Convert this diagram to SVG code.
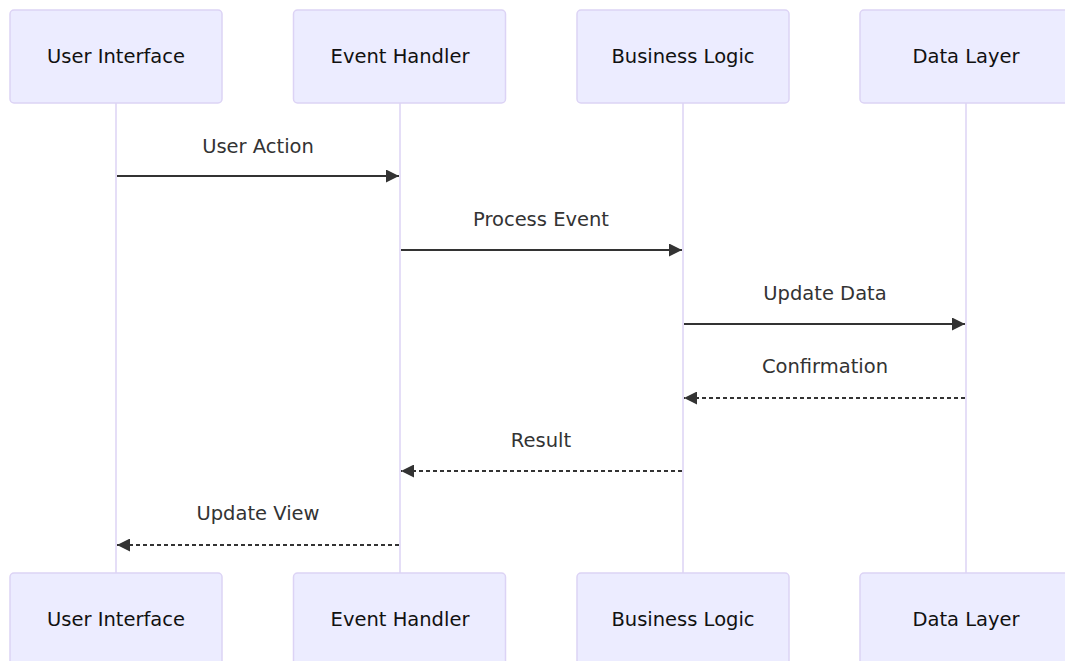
<svg xmlns="http://www.w3.org/2000/svg" width="1065" height="661" viewBox="0 0 1065 661">
  <style>
    .actor rect { fill: #ECECFF; stroke: #DCD3F5; stroke-width: 1.5; }
    .actor text { font-family: "DejaVu Sans", "Noto Sans", sans-serif; font-size: 19.5px; fill: #111; text-anchor: middle; dominant-baseline: central; }
    .lifeline { stroke: #DCD3F5; stroke-width: 1.5; fill: none; }
    .msg { stroke: #333; stroke-width: 2; fill: none; }
    .dashed { stroke-dasharray: 4 3; }
    .label { font-family: "DejaVu Sans", "Noto Sans", sans-serif; font-size: 19.5px; fill: #333; text-anchor: middle; }
  </style>
  <defs>
    <marker id="arrowhead" viewBox="0 0 13 13" refX="13" refY="6.5" markerWidth="13" markerHeight="13" markerUnits="userSpaceOnUse" orient="auto">
      <path d="M0,0 L13,6.5 L0,13 z" fill="#333"/>
    </marker>
  </defs>
  <rect width="1065" height="661" fill="#fff"/>

  <!-- lifelines -->
  <g id="lifelines">
    <line class="lifeline" x1="116" y1="103" x2="116" y2="573"/>
    <line class="lifeline" x1="400" y1="103" x2="400" y2="573"/>
    <line class="lifeline" x1="683" y1="103" x2="683" y2="573"/>
    <line class="lifeline" x1="966" y1="103" x2="966" y2="573"/>
  </g>

  <!-- participants, top row -->
  <g id="ui-top" class="actor"><rect x="10" y="10" width="212" height="93" rx="4"/><text x="116" y="56">User Interface</text></g>
  <g id="eh-top" class="actor"><rect x="293.5" y="10" width="212" height="93" rx="4"/><text x="400" y="56">Event Handler</text></g>
  <g id="bl-top" class="actor"><rect x="577" y="10" width="212" height="93" rx="4"/><text x="683" y="56">Business Logic</text></g>
  <g id="dl-top" class="actor"><rect x="860" y="10" width="212" height="93" rx="4"/><text x="966" y="56">Data Layer</text></g>

  <!-- participants, bottom row -->
  <g id="ui-bottom" class="actor"><rect x="10" y="573" width="212" height="93" rx="4"/><text x="116" y="619">User Interface</text></g>
  <g id="eh-bottom" class="actor"><rect x="293.5" y="573" width="212" height="93" rx="4"/><text x="400" y="619">Event Handler</text></g>
  <g id="bl-bottom" class="actor"><rect x="577" y="573" width="212" height="93" rx="4"/><text x="683" y="619">Business Logic</text></g>
  <g id="dl-bottom" class="actor"><rect x="860" y="573" width="212" height="93" rx="4"/><text x="966" y="619">Data Layer</text></g>

  <!-- messages -->
  <g id="connectors">
    <line class="msg" x1="117" y1="176" x2="399" y2="176" marker-end="url(#arrowhead)"/>
    <text class="label" x="258" y="153">User Action</text>
    <line class="msg" x1="401" y1="250" x2="682" y2="250" marker-end="url(#arrowhead)"/>
    <text class="label" x="541" y="226">Process Event</text>
    <line class="msg" x1="684" y1="324" x2="965" y2="324" marker-end="url(#arrowhead)"/>
    <text class="label" x="825" y="300">Update Data</text>
    <line class="msg dashed" x1="965" y1="398" x2="684" y2="398" marker-end="url(#arrowhead)"/>
    <text class="label" x="825" y="373">Confirmation</text>
    <line class="msg dashed" x1="682" y1="471" x2="401" y2="471" marker-end="url(#arrowhead)"/>
    <text class="label" x="541" y="447">Result</text>
    <line class="msg dashed" x1="399" y1="545" x2="117" y2="545" marker-end="url(#arrowhead)"/>
    <text class="label" x="258" y="520">Update View</text>
  </g>
</svg>
